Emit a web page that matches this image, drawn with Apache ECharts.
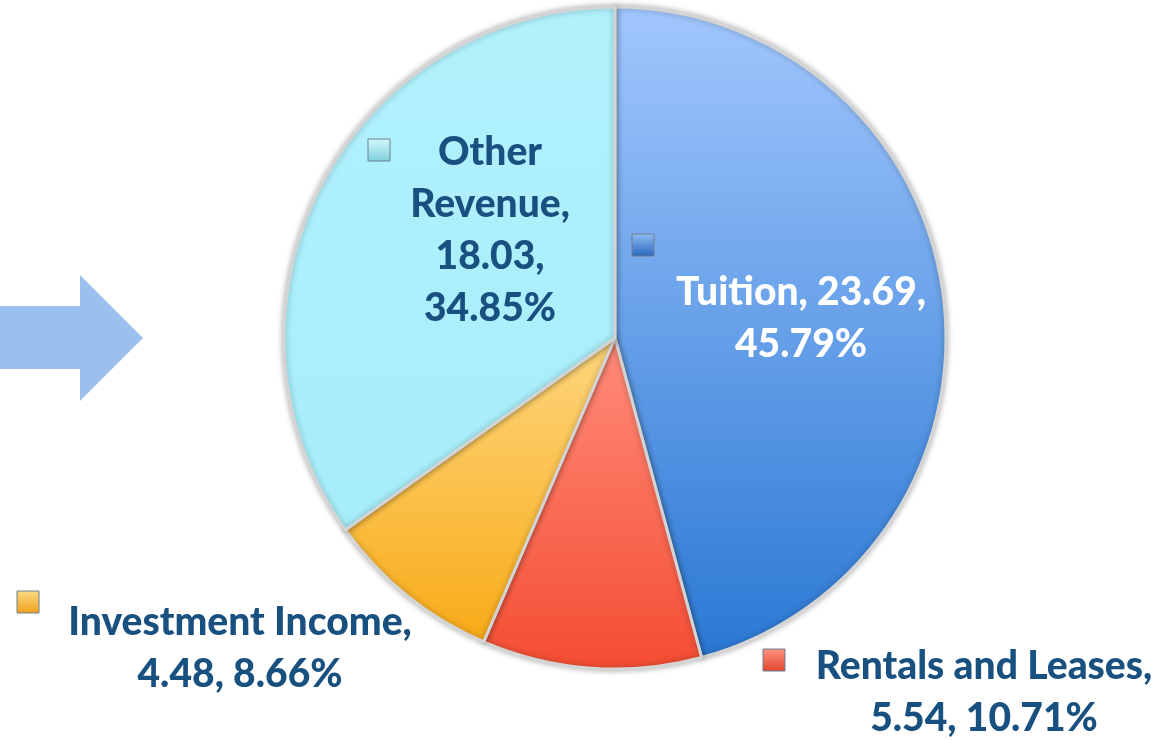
<!DOCTYPE html>
<html lang="en">
<head>
    <meta charset="UTF-8">
    <title>Revenue</title>
    <script src="https://cdn.jsdelivr.net/npm/echarts@6.0.0/dist/echarts.min.js"></script>
    <style>
        html, body { margin: 0; padding: 0; background: #fff; }
        #main { width: 1173px; height: 740px; }
    </style>
</head>
<body>
<div id="main"></div>
<script>
    // data
    var names = ['Tuition', 'Rentals and Leases', 'Investment Income', 'Other Revenue'];
    var values = [23.69, 5.54, 4.48, 18.03];

    // slice colours (top -> bottom)
    var topColors = ['#a2c7fd', '#ff8c7a', '#fdd67e', '#b1f1fc'];
    var botColors = ['#2a78d4', '#f44d33', '#f8ab17', '#a6eefa'];
    // key square colours (top -> bottom)
    var keyTop = ['#8fbdf2', '#ff9482', '#fedb86', '#d2f8fc'];
    var keyBot = ['#2766bd', '#e0442c', '#eda019', '#80d0dc'];
    var labelColors = ['#ffffff', '#185080', '#185080', '#185080'];

    // label centres and marker squares (layout only)
    var labelPos = [[801, 318], [984, 692], [240, 648], [490, 230]];
    var keyPos = [[632, 234], [763, 649], [17, 591], [368, 139]];

    var total = 0;
    for (var i = 0; i < values.length; i++) total += values[i];

    function pct(v) {
        return (v / total * 100).toFixed(2) + '%';
    }

    var pieData = [];
    for (var i = 0; i < names.length; i++) {
        pieData.push({
            name: names[i],
            value: values[i],
            itemStyle: {
                color: new echarts.graphic.LinearGradient(0, 0, 0, 1, [
                    {offset: 0, color: topColors[i]},
                    {offset: 1, color: botColors[i]}
                ])
            },
            label: {color: labelColors[i]}
        });
    }

    // arrow + legend-like key squares next to each label
    var graphics = [{
        type: 'polygon',
        shape: {points: [[0, 306], [80, 306], [80, 275], [143, 338], [80, 401], [80, 369], [0, 369]]},
        style: {fill: '#9bbfee'}
    }];
    for (var i = 0; i < keyPos.length; i++) {
        graphics.push({
            type: 'rect',
            z: 100,
            shape: {x: keyPos[i][0], y: keyPos[i][1], width: 22, height: 22},
            style: {
                fill: new echarts.graphic.LinearGradient(0, 0, 0, 1, [
                    {offset: 0, color: keyTop[i]},
                    {offset: 1, color: keyBot[i]}
                ]),
                stroke: '#6f7f90',
                lineWidth: 1
            }
        });
    }

    var chart = echarts.init(document.getElementById('main'));
    var option = {
        animation: false,
        graphic: graphics,
        series: [{
            type: 'pie',
            center: [615, 338],
            radius: [0, 331],
            startAngle: 90,
            clockwise: true,
            itemStyle: {
                borderColor: '#d4d4d4',
                borderWidth: 3,
                shadowBlur: 6,
                shadowColor: 'rgba(0,0,0,0.3)'
            },
            label: {
                show: true,
                position: 'inside',
                fontFamily: 'Lato',
                fontWeight: 900,
                fontSize: 39,
                lineHeight: 52,
                align: 'center',
                formatter: function (p) {
                    var v = p.value.toFixed(2);
                    if (p.dataIndex === 0) return p.name + ', ' + v + ',\n' + pct(p.value);
                    if (p.dataIndex === 3) return p.name.replace(' ', '\n') + ',\n' + v + ',\n' + pct(p.value);
                    return p.name + ',\n' + v + ', ' + pct(p.value);
                }
            },
            labelLine: {show: false},
            labelLayout: function (params) {
                var pos = labelPos[params.dataIndex];
                return {x: pos[0], y: pos[1], align: 'center', verticalAlign: 'middle'};
            },
            data: pieData
        }]
    };
    chart.setOption(option);
</script>
</body>
</html>
